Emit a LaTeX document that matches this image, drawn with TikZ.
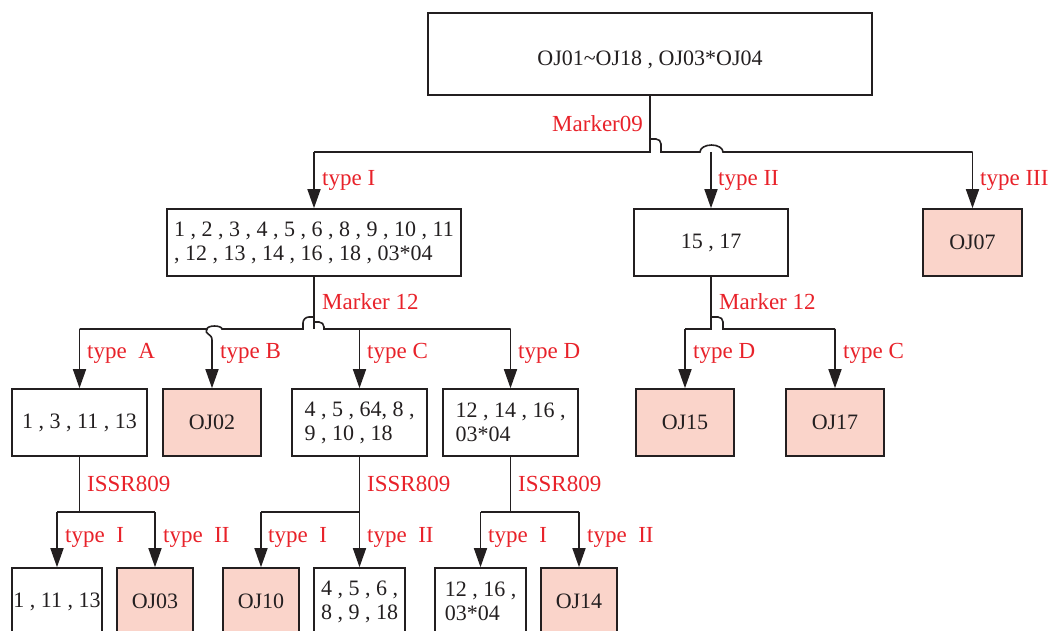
\documentclass[tikz,border=0pt]{standalone}
\usepackage{fontspec}
\setmainfont{Liberation Serif}
\usetikzlibrary{arrows.meta}
\definecolor{lbl}{RGB}{232,34,42}
\definecolor{pinkfill}{RGB}{250,212,202}
\definecolor{ln}{RGB}{35,31,32}
\newcommand\blkfont{\fontsize{22}{24}\selectfont}
\newcommand\redfont{\fontsize{23}{26}\selectfont}
\begin{document}
\begin{tikzpicture}[x=1pt,y=-1pt,
  box/.style={draw=ln,line width=1.6pt,fill=white,inner sep=0pt,font=\blkfont,text=ln,minimum height=67},
  pinkbox/.style={box,fill=pinkfill},
  lab/.style={text=lbl,font=\redfont,anchor=base west,inner sep=0pt},
  conn/.style={draw=ln,line width=1.6pt},
  arr/.style={conn,-{Triangle[width=13pt,length=19pt]}}]
\useasboundingbox (0,0) rectangle (1053,631);
\clip (0,0) rectangle (1053,631);
% level 1
\node[box,minimum width=444,minimum height=82,text height=24pt,text depth=0pt] (root) at (650,54) {OJ01\textasciitilde OJ18 , OJ03*OJ04};
% level 2
\node[box,minimum width=294,align=left] (n1) at (314,242.5) {1 , 2 , 3 , 4 , 5 , 6 , 8 , 9 , 10 , 11\\, 12 , 13 , 14 , 16 , 18 , 03*04};
\node[box,minimum width=154] (n2) at (711,242.5) {15 , 17};
\node[pinkbox,minimum width=99] (n3) at (972.5,242.5) {OJ07};
% level 3
\node[box,minimum width=135] (a) at (79.5,422.5) {1 , 3 , 11 , 13};
\node[pinkbox,minimum width=98] (b) at (212,422.5) {OJ02};
\node[box,minimum width=135,align=left] (c) at (359.5,422.5) {4 , 5 , 64, 8 ,\\9 , 10 , 18};
\node[box,minimum width=135,align=left] (d) at (510.5,422.5) {12 , 14 , 16 ,\\03*04};
\node[pinkbox,minimum width=98] (e) at (685,422.5) {OJ15};
\node[pinkbox,minimum width=98] (f) at (835,422.5) {OJ17};
% level 4
\node[box,minimum width=90] (g) at (57,601.5) {1 , 11 , 13};
\node[pinkbox,minimum width=76] (h) at (155,601.5) {OJ03};
\node[pinkbox,minimum width=76] (i) at (261,601.5) {OJ10};
\node[box,minimum width=91,align=center] (j) at (359.5,601.5) {4 , 5 , 6 ,\\8 , 9 , 18};
\node[box,minimum width=91,align=left] (k) at (480.5,601.5) {12 , 16 ,\\03*04};
\node[pinkbox,minimum width=76] (l) at (579,601.5) {OJ14};
% connectors level 1 -> 2
\coordinate (j0) at (650,152);
\draw[conn] (root.south) -- (j0) -- (j0 -| n1.north);
\draw[arr] (j0 -| n1.north) -- (n1.north);
\draw[conn] (650,139) -- (656,139) arc[start angle=270,end angle=360,radius=5] -- (661,152) -- (700,152) arc[start angle=180,end angle=360,x radius=11.5,y radius=7] -- (j0 -| n3.north);
\draw[arr] (j0 -| n2.north) -- (n2.north);
\draw[arr] (j0 -| n3.north) -- (n3.north);
% connectors level 2 -> 3 (left)
\coordinate (j1) at (314,329);
\draw[conn] (n1.south) -- (j1);
\draw[conn] (314,317) -- (309,317) arc[start angle=270,end angle=180,radius=6] -- (303,329) -- (222,329) arc[start angle=0,end angle=-180,x radius=7.5,y radius=3] -- (j1 -| a.north);
\draw[conn] (314,322) -- (319,322) arc[start angle=270,end angle=360,radius=5] -- (324,329) -- (j1 -| d.north);
\draw[arr] (j1 -| a.north) -- (a.north);
\draw[arr] (207,329) .. controls (204,335) and (212,333) .. (212,340) -- (b.north);
\draw[arr] (j1 -| c.north) -- (c.north);
\draw[arr] (j1 -| d.north) -- (d.north);
% connectors level 2 -> 3 (right)
\coordinate (j2) at (711,329);
\draw[conn] (n2.south) -- (j2) -- (j2 -| e.north);
\draw[conn] (711,317) -- (718,317) arc[start angle=270,end angle=360,radius=5] -- (723,329) -- (j2 -| f.north);
\draw[arr] (j2 -| e.north) -- (e.north);
\draw[arr] (j2 -| f.north) -- (f.north);
% connectors level 3 -> 4
\coordinate (ja) at (79.5,512);
\draw[conn] (a.south) -- (ja);
\draw[conn] (ja -| g.north) -- (ja -| h.north);
\draw[arr] (ja -| g.north) -- (g.north);
\draw[arr] (ja -| h.north) -- (h.north);
\coordinate (jc) at (359.5,512);
\draw[conn] (c.south) -- (jc) -- (jc -| i.north);
\draw[arr] (jc -| i.north) -- (i.north);
\draw[arr] (jc) -- (j.north);
\coordinate (jd) at (510.5,512);
\draw[conn] (d.south) -- (jd);
\draw[conn] (jd -| k.north) -- (jd -| l.north);
\draw[arr] (jd -| k.north) -- (k.north);
\draw[arr] (jd -| l.north) -- (l.north);
% labels
\node[lab] (m09) at (552,132) {Marker09};
\node[lab] (t1) at (322,186) {type I};
\node[lab] (t2) at (718,186) {type II};
\node[lab] (t3) at (980,186) {type III};
\node[lab] (m12a) at (322,309) {Marker 12};
\node[lab] (m12b) at (719,309) {Marker 12};
\node[lab] (ta) at (87,359) {type\ \ A};
\node[lab] (tb) at (220,359) {type B};
\node[lab] (tc) at (367,359) {type C};
\node[lab] (td) at (518,359) {type D};
\node[lab] (td2) at (693,359) {type D};
\node[lab] (tc2) at (843,359) {type C};
\node[lab] (is1) at (87,491) {ISSR809};
\node[lab] (is2) at (367,491) {ISSR809};
\node[lab] (is3) at (518,491) {ISSR809};
\node[lab] (b1) at (65,542) {type\ \ I};
\node[lab] (b2) at (163,542) {type\ \ II};
\node[lab] (b3) at (268,542) {type\ \ I};
\node[lab] (b4) at (367,542) {type\ \ II};
\node[lab] (b5) at (488,542) {type\ \ I};
\node[lab] (b6) at (587,542) {type\ \ II};
\end{tikzpicture}
\end{document}
